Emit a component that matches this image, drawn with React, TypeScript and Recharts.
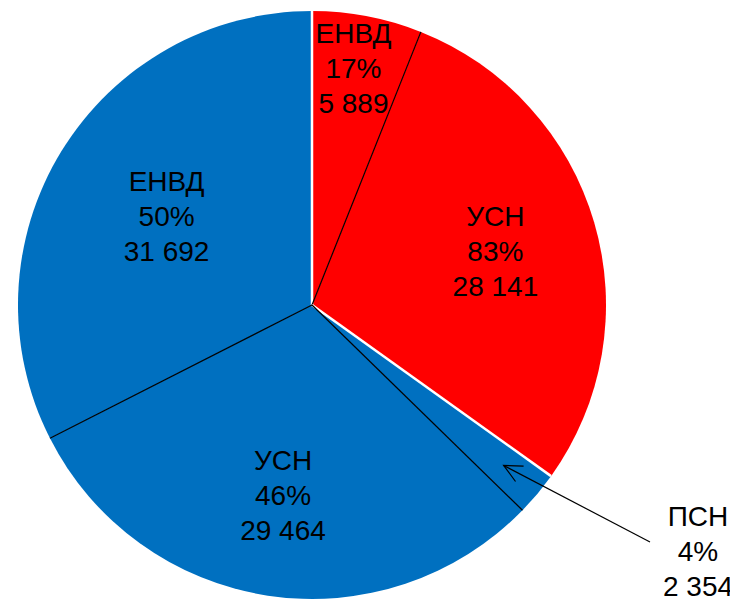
import * as React from 'react';
import { PieChart, Pie, Cell } from 'recharts';

// slices in drawing order, clockwise from 12 o'clock
const taxNames = ['ЕНВД', 'УСН', 'ПСН', 'УСН', 'ЕНВД'];
const taxGroups = ['red', 'red', 'blue', 'blue', 'blue'];
const taxValues = [5889, 28141, 2354, 29464, 31692];

const groupColors: Record<string, string> = { red: '#FF0000', blue: '#0070C0' };

const data = taxNames.map((name, i) => ({ name, group: taxGroups[i], value: taxValues[i] }));

const groupTotals: Record<string, number> = {};
data.forEach(d => {
  groupTotals[d.group] = (groupTotals[d.group] || 0) + d.value;
});

const fmt = (v: number) => String(v).replace(/\B(?=(\d{3})+(?!\d))/g, ' ');

const RAD = Math.PI / 180;
const FONT = 28;
const LINE = 35;
// how far out (share of radius) each inside label sits, 0 = outside with arrow
const labelRadius = [0.82, 0.65, 0, 0.655, 0.58];
const labelShiftX = [-4, 0, 0, 0, 0];

const renderLabel = (props: any) => {
  const { cx, cy, midAngle, startAngle, outerRadius, index } = props;
  const d = data[index];
  const pt = (a: number, r: number) => ({ x: cx + r * Math.cos(a * RAD), y: cy - r * Math.sin(a * RAD) });

  const prev = (index + data.length - 1) % data.length;
  const same = data[prev].group === d.group;
  const edge = pt(startAngle, outerRadius);

  const pct = `${Math.round((d.value / groupTotals[d.group]) * 100)}%`;
  const lines = [d.name, pct, fmt(d.value)];

  let tx: number;
  let ty: number;
  let arrow: React.ReactNode = null;
  if (labelRadius[index] === 0) {
    // small slice: label outside with an arrow
    tx = cx + 386;
    ty = cy + 246;
    const tip = pt(midAngle, outerRadius * 0.85);
    const from = { x: cx + 338, y: cy + 237 };
    const ang = Math.atan2(from.y - tip.y, from.x - tip.x);
    const h1 = { x: tip.x + 20 * Math.cos(ang + 0.45), y: tip.y + 20 * Math.sin(ang + 0.45) };
    const h2 = { x: tip.x + 20 * Math.cos(ang - 0.45), y: tip.y + 20 * Math.sin(ang - 0.45) };
    arrow = (
      <g stroke="#000" strokeWidth={1.2} fill="none">
        <line x1={from.x} y1={from.y} x2={tip.x} y2={tip.y} />
        <polyline points={`${h1.x},${h1.y} ${tip.x},${tip.y} ${h2.x},${h2.y}`} />
      </g>
    );
  } else {
    const c = pt(midAngle, outerRadius * labelRadius[index]);
    tx = c.x + labelShiftX[index];
    ty = c.y;
  }

  return (
    <g key={`lbl-${index}`}>
      <line
        x1={cx}
        y1={cy}
        x2={edge.x}
        y2={edge.y}
        stroke={same ? '#000' : '#fff'}
        strokeWidth={same ? 1.2 : 2.5}
      />
      {arrow}
      {lines.map((t, j) => (
        <text
          key={j}
          x={tx}
          y={ty + (j - 1) * LINE + 10}
          textAnchor="middle"
          fontSize={FONT}
          fill="#000"
          fontFamily='"Liberation Sans", Arial, sans-serif'
        >
          {t}
        </text>
      ))}
    </g>
  );
};

export default function App() {
  return (
    <div style={{ width: 730, height: 595 }}>
      <PieChart width={730} height={595} margin={{ top: 0, right: 0, bottom: 0, left: 0 }}>
        <Pie
          data={data}
          dataKey="value"
          nameKey="name"
          cx={304}
          cy={297}
          outerRadius={294}
          startAngle={90}
          endAngle={-270}
          stroke="none"
          label={renderLabel}
          labelLine={false}
          isAnimationActive={false}
        >
          {data.map((d, i) => (
            <Cell key={`cell-${i}`} fill={groupColors[d.group]} />
          ))}
        </Pie>
      </PieChart>
    </div>
  );
}
